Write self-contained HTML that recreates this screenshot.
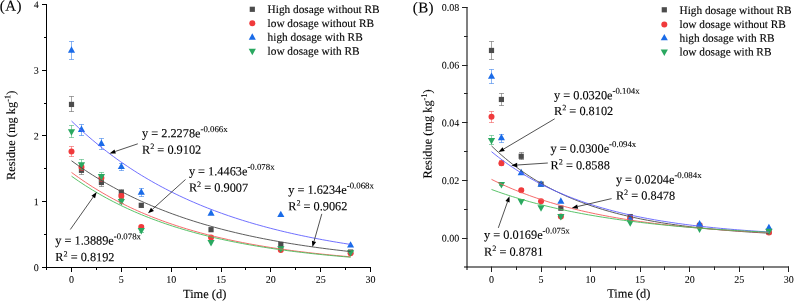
<!DOCTYPE html>
<html><head><meta charset="utf-8"><style>
html,body{margin:0;padding:0;background:#fff;}
body{width:794px;height:301px;overflow:hidden;}
svg{display:block;font-family:"Liberation Serif",serif;}
text{stroke:#000;stroke-width:0.12px;}
text.t{stroke-width:0.06px;}
</style></head><body>
<svg width="794" height="301" viewBox="0 0 794 301">
<defs><filter id="gs" filterUnits="userSpaceOnUse" x="0" y="0" width="794" height="301"><feOffset dx="0" dy="0"/></filter></defs>
<rect width="794" height="301" fill="#fff"/>
<g filter="url(#gs)">
<g stroke="#000" stroke-width="1" fill="none">
<path d="M46.5 4V270"/>
<path d="M46 267.5H371"/>
<path d="M42 267.50H46"/>
<path d="M42 201.50H46"/>
<path d="M42 135.50H46"/>
<path d="M42 70.50H46"/>
<path d="M42 4.50H46"/>
<path d="M44 234.50H46"/>
<path d="M44 168.50H46"/>
<path d="M44 103.50H46"/>
<path d="M44 37.50H46"/>
<path d="M71.50 267V272"/>
<path d="M121.50 267V272"/>
<path d="M171.50 267V272"/>
<path d="M221.50 267V272"/>
<path d="M270.50 267V272"/>
<path d="M320.50 267V272"/>
<path d="M370.50 267V272"/>
<path d="M96.50 267V270"/>
<path d="M146.50 267V270"/>
<path d="M196.50 267V270"/>
<path d="M245.50 267V270"/>
<path d="M295.50 267V270"/>
<path d="M345.50 267V270"/>
</g>
<text x="38.80" y="270.90" font-size="10" text-anchor="end" fill="#000" transform="rotate(0.05 38.80 270.90)" class="t">0</text>
<text x="38.80" y="205.15" font-size="10" text-anchor="end" fill="#000" transform="rotate(0.05 38.80 205.15)" class="t">1</text>
<text x="38.80" y="139.40" font-size="10" text-anchor="end" fill="#000" transform="rotate(0.05 38.80 139.40)" class="t">2</text>
<text x="38.80" y="73.65" font-size="10" text-anchor="end" fill="#000" transform="rotate(0.05 38.80 73.65)" class="t">3</text>
<text x="38.80" y="7.90" font-size="10" text-anchor="end" fill="#000" transform="rotate(0.05 38.80 7.90)" class="t">4</text>
<text x="71.50" y="282.80" font-size="10" text-anchor="middle" fill="#000" transform="rotate(0.05 71.50 282.80)" class="t">0</text>
<text x="121.34" y="282.80" font-size="10" text-anchor="middle" fill="#000" transform="rotate(0.05 121.34 282.80)" class="t">5</text>
<text x="171.17" y="282.80" font-size="10" text-anchor="middle" fill="#000" transform="rotate(0.05 171.17 282.80)" class="t">10</text>
<text x="221.00" y="282.80" font-size="10" text-anchor="middle" fill="#000" transform="rotate(0.05 221.00 282.80)" class="t">15</text>
<text x="270.84" y="282.80" font-size="10" text-anchor="middle" fill="#000" transform="rotate(0.05 270.84 282.80)" class="t">20</text>
<text x="320.68" y="282.80" font-size="10" text-anchor="middle" fill="#000" transform="rotate(0.05 320.68 282.80)" class="t">25</text>
<text x="370.51" y="282.80" font-size="10" text-anchor="middle" fill="#000" transform="rotate(0.05 370.51 282.80)" class="t">30</text>
<text x="183.00" y="298.00" font-size="12.4" text-anchor="start" fill="#000" transform="rotate(0.05 183.00 298.00)" >Time (d)</text>
<text transform="translate(15 180) rotate(-89.95)" font-size="12.35" fill="#000">Residue (mg kg<tspan font-size="8.4" dy="-4.8">-1</tspan><tspan dy="4.8">)</tspan></text>
<text x="-0.20" y="10.80" font-size="15" text-anchor="start" fill="#000" transform="rotate(0.05 -0.20 10.80)" letter-spacing="0.4">(A)</text>
<path d="M71.50 96.50V111.50M69.00 96.50H74.00M69.00 111.50H74.00" stroke="#4c4c4c" stroke-width="1" fill="none" opacity="0.5"/>
<path d="M81.50 166.50V174.50M79.00 166.50H84.00M79.00 174.50H84.00" stroke="#4c4c4c" stroke-width="1" fill="none" opacity="0.5"/>
<path d="M101.50 178.50V186.50M99.00 178.50H104.00M99.00 186.50H104.00" stroke="#4c4c4c" stroke-width="1" fill="none" opacity="0.5"/>
<path d="M121.50 189.50V195.50M119.00 189.50H124.00M119.00 195.50H124.00" stroke="#4c4c4c" stroke-width="1" fill="none" opacity="0.5"/>
<path d="M141.50 203.50V207.50M139.00 203.50H144.00M139.00 207.50H144.00" stroke="#4c4c4c" stroke-width="1" fill="none" opacity="0.5"/>
<rect x="68.90" y="101.84" width="5.20" height="5.20" fill="#4c4c4c"/>
<rect x="78.87" y="167.72" width="5.20" height="5.20" fill="#4c4c4c"/>
<rect x="98.80" y="179.89" width="5.20" height="5.20" fill="#4c4c4c"/>
<rect x="118.74" y="189.95" width="5.20" height="5.20" fill="#4c4c4c"/>
<rect x="138.67" y="202.70" width="5.20" height="5.20" fill="#4c4c4c"/>
<rect x="208.44" y="227.09" width="5.20" height="5.20" fill="#4c4c4c"/>
<rect x="278.21" y="241.89" width="5.20" height="5.20" fill="#4c4c4c"/>
<rect x="347.98" y="249.45" width="5.20" height="5.20" fill="#4c4c4c"/>
<path d="M71.50 146.50V156.50M69.00 146.50H74.00M69.00 156.50H74.00" stroke="#f03a3c" stroke-width="1" fill="none" opacity="0.5"/>
<path d="M81.50 163.50V170.50M79.00 163.50H84.00M79.00 170.50H84.00" stroke="#f03a3c" stroke-width="1" fill="none" opacity="0.5"/>
<path d="M101.50 174.50V181.50M99.00 174.50H104.00M99.00 181.50H104.00" stroke="#f03a3c" stroke-width="1" fill="none" opacity="0.5"/>
<path d="M121.50 193.50V198.50M119.00 193.50H124.00M119.00 198.50H124.00" stroke="#f03a3c" stroke-width="1" fill="none" opacity="0.5"/>
<path d="M141.50 225.50V228.50M139.00 225.50H144.00M139.00 228.50H144.00" stroke="#f03a3c" stroke-width="1" fill="none" opacity="0.5"/>
<circle cx="71.50" cy="151.52" r="3.00" fill="#f03a3c"/>
<circle cx="81.47" cy="166.90" r="3.00" fill="#f03a3c"/>
<circle cx="101.40" cy="178.08" r="3.00" fill="#f03a3c"/>
<circle cx="121.34" cy="196.03" r="3.00" fill="#f03a3c"/>
<circle cx="141.27" cy="227.00" r="3.00" fill="#f03a3c"/>
<circle cx="211.04" cy="237.39" r="3.00" fill="#f03a3c"/>
<circle cx="280.81" cy="250.01" r="3.00" fill="#f03a3c"/>
<circle cx="350.58" cy="253.30" r="3.00" fill="#f03a3c"/>
<path d="M71.50 41.50V59.50M69.00 41.50H74.00M69.00 59.50H74.00" stroke="#1a6be8" stroke-width="1" fill="none" opacity="0.5"/>
<path d="M81.50 124.50V135.50M79.00 124.50H84.00M79.00 135.50H84.00" stroke="#1a6be8" stroke-width="1" fill="none" opacity="0.5"/>
<path d="M101.50 138.50V149.50M99.00 138.50H104.00M99.00 149.50H104.00" stroke="#1a6be8" stroke-width="1" fill="none" opacity="0.5"/>
<path d="M121.50 163.50V170.50M119.00 163.50H124.00M119.00 170.50H124.00" stroke="#1a6be8" stroke-width="1" fill="none" opacity="0.5"/>
<path d="M141.50 188.50V196.50M139.00 188.50H144.00M139.00 196.50H144.00" stroke="#1a6be8" stroke-width="1" fill="none" opacity="0.5"/>
<path d="M71.50 46.26L75.05 52.66L67.95 52.66Z" fill="#1a6be8"/>
<path d="M81.47 125.55L85.02 131.95L77.92 131.95Z" fill="#1a6be8"/>
<path d="M101.40 139.62L104.95 146.02L97.85 146.02Z" fill="#1a6be8"/>
<path d="M121.34 162.64L124.89 169.04L117.79 169.04Z" fill="#1a6be8"/>
<path d="M141.27 188.28L144.82 194.68L137.72 194.68Z" fill="#1a6be8"/>
<path d="M211.04 209.25L214.59 215.65L207.49 215.65Z" fill="#1a6be8"/>
<path d="M280.81 210.63L284.36 217.03L277.26 217.03Z" fill="#1a6be8"/>
<path d="M350.58 241.21L354.13 247.61L347.03 247.61Z" fill="#1a6be8"/>
<path d="M71.50 125.50V137.50M69.00 125.50H74.00M69.00 137.50H74.00" stroke="#2aa860" stroke-width="1" fill="none" opacity="0.5"/>
<path d="M81.50 159.50V169.50M79.00 159.50H84.00M79.00 169.50H84.00" stroke="#2aa860" stroke-width="1" fill="none" opacity="0.5"/>
<path d="M101.50 172.50V180.50M99.00 172.50H104.00M99.00 180.50H104.00" stroke="#2aa860" stroke-width="1" fill="none" opacity="0.5"/>
<path d="M121.50 198.50V203.50M119.00 198.50H124.00M119.00 203.50H124.00" stroke="#2aa860" stroke-width="1" fill="none" opacity="0.5"/>
<path d="M141.50 228.50V232.50M139.00 228.50H144.00M139.00 232.50H144.00" stroke="#2aa860" stroke-width="1" fill="none" opacity="0.5"/>
<path d="M71.50 135.73L75.10 129.23L67.90 129.23Z" fill="#2aa860"/>
<path d="M81.47 168.80L85.07 162.30L77.87 162.30Z" fill="#2aa860"/>
<path d="M101.40 180.44L105.00 173.94L97.80 173.94Z" fill="#2aa860"/>
<path d="M121.34 205.62L124.94 199.12L117.74 199.12Z" fill="#2aa860"/>
<path d="M141.27 234.55L144.87 228.05L137.67 228.05Z" fill="#2aa860"/>
<path d="M211.04 246.52L214.64 240.02L207.44 240.02Z" fill="#2aa860"/>
<path d="M280.81 252.83L284.41 246.33L277.21 246.33Z" fill="#2aa860"/>
<path d="M350.58 256.71L354.18 250.21L346.98 250.21Z" fill="#2aa860"/>
<path d="M71.50 160.76L74.99 163.27L78.48 165.72L81.97 168.12L85.45 170.45L88.94 172.74L92.43 174.97L95.92 177.14L99.41 179.27L102.90 181.34L106.38 183.37L109.87 185.35L113.36 187.28L116.85 189.17L120.34 191.01L123.83 192.81L127.32 194.56L130.80 196.28L134.29 197.95L137.78 199.59L141.27 201.19L144.76 202.75L148.25 204.27L151.73 205.76L155.22 207.21L158.71 208.63L162.20 210.01L165.69 211.36L169.18 212.68L172.67 213.97L176.15 215.23L179.64 216.46L183.13 217.66L186.62 218.83L190.11 219.98L193.60 221.10L197.08 222.19L200.57 223.25L204.06 224.29L207.55 225.31L211.04 226.30L214.53 227.27L218.01 228.22L221.50 229.14L224.99 230.04L228.48 230.92L231.97 231.78L235.46 232.62L238.95 233.44L242.43 234.25L245.92 235.03L249.41 235.79L252.90 236.54L256.39 237.27L259.88 237.98L263.36 238.67L266.85 239.35L270.34 240.01L273.83 240.66L277.32 241.29L280.81 241.91L284.30 242.51L287.78 243.10L291.27 243.67L294.76 244.23L298.25 244.78L301.74 245.31L305.23 245.83L308.71 246.34L312.20 246.84L315.69 247.33L319.18 247.80L322.67 248.26L326.16 248.72L329.65 249.16L333.13 249.59L336.62 250.01L340.11 250.42L343.60 250.82L347.09 251.22L350.58 251.60" stroke="#4a4a4a" stroke-width="0.9" fill="none"/>
<path d="M71.50 172.41L74.99 174.97L78.48 177.46L81.97 179.88L85.45 182.24L88.94 184.54L92.43 186.77L95.92 188.95L99.41 191.06L102.90 193.12L106.38 195.12L109.87 197.07L113.36 198.97L116.85 200.82L120.34 202.61L123.83 204.36L127.32 206.06L130.80 207.71L134.29 209.32L137.78 210.89L141.27 212.42L144.76 213.90L148.25 215.34L151.73 216.75L155.22 218.11L158.71 219.44L162.20 220.74L165.69 222.00L169.18 223.22L172.67 224.42L176.15 225.58L179.64 226.70L183.13 227.80L186.62 228.87L190.11 229.91L193.60 230.92L197.08 231.91L200.57 232.87L204.06 233.80L207.55 234.71L211.04 235.59L214.53 236.45L218.01 237.29L221.50 238.10L224.99 238.89L228.48 239.66L231.97 240.41L235.46 241.14L238.95 241.85L242.43 242.54L245.92 243.21L249.41 243.87L252.90 244.51L256.39 245.12L259.88 245.73L263.36 246.31L266.85 246.88L270.34 247.44L273.83 247.98L277.32 248.51L280.81 249.02L284.30 249.51L287.78 250.00L291.27 250.47L294.76 250.93L298.25 251.38L301.74 251.81L305.23 252.23L308.71 252.64L312.20 253.04L315.69 253.43L319.18 253.81L322.67 254.18L326.16 254.54L329.65 254.89L333.13 255.23L336.62 255.56L340.11 255.88L343.60 256.19L347.09 256.50L350.58 256.79" stroke="#f45a5a" stroke-width="0.9" fill="none"/>
<path d="M71.50 121.02L74.99 124.37L78.48 127.64L81.97 130.83L85.45 133.95L88.94 137.00L92.43 139.98L95.92 142.89L99.41 145.74L102.90 148.52L106.38 151.23L109.87 153.89L113.36 156.48L116.85 159.02L120.34 161.50L123.83 163.92L127.32 166.28L130.80 168.59L134.29 170.85L137.78 173.06L141.27 175.22L144.76 177.32L148.25 179.38L151.73 181.39L155.22 183.36L158.71 185.28L162.20 187.16L165.69 188.99L169.18 190.79L172.67 192.54L176.15 194.25L179.64 195.92L183.13 197.56L186.62 199.15L190.11 200.72L193.60 202.24L197.08 203.73L200.57 205.19L204.06 206.61L207.55 208.00L211.04 209.36L214.53 210.69L218.01 211.98L221.50 213.25L224.99 214.49L228.48 215.70L231.97 216.88L235.46 218.04L238.95 219.17L242.43 220.27L245.92 221.35L249.41 222.40L252.90 223.43L256.39 224.44L259.88 225.42L263.36 226.38L266.85 227.32L270.34 228.24L273.83 229.14L277.32 230.01L280.81 230.87L284.30 231.71L287.78 232.52L291.27 233.32L294.76 234.10L298.25 234.87L301.74 235.61L305.23 236.34L308.71 237.05L312.20 237.75L315.69 238.43L319.18 239.09L322.67 239.74L326.16 240.37L329.65 240.99L333.13 241.60L336.62 242.19L340.11 242.77L343.60 243.33L347.09 243.88L350.58 244.42" stroke="#6060ff" stroke-width="0.9" fill="none"/>
<path d="M71.50 176.18L74.99 178.64L78.48 181.03L81.97 183.36L85.45 185.63L88.94 187.83L92.43 189.98L95.92 192.06L99.41 194.10L102.90 196.07L106.38 198.00L109.87 199.87L113.36 201.69L116.85 203.46L120.34 205.19L123.83 206.87L127.32 208.50L130.80 210.09L134.29 211.63L137.78 213.14L141.27 214.60L144.76 216.03L148.25 217.41L151.73 218.76L155.22 220.07L158.71 221.35L162.20 222.59L165.69 223.80L169.18 224.98L172.67 226.13L176.15 227.24L179.64 228.32L183.13 229.38L186.62 230.41L190.11 231.40L193.60 232.38L197.08 233.32L200.57 234.24L204.06 235.14L207.55 236.01L211.04 236.86L214.53 237.68L218.01 238.49L221.50 239.27L224.99 240.03L228.48 240.77L231.97 241.49L235.46 242.19L238.95 242.87L242.43 243.53L245.92 244.18L249.41 244.81L252.90 245.42L256.39 246.01L259.88 246.59L263.36 247.15L266.85 247.70L270.34 248.24L273.83 248.75L277.32 249.26L280.81 249.75L284.30 250.23L287.78 250.69L291.27 251.15L294.76 251.59L298.25 252.02L301.74 252.43L305.23 252.84L308.71 253.23L312.20 253.62L315.69 253.99L319.18 254.35L322.67 254.71L326.16 255.05L329.65 255.39L333.13 255.71L336.62 256.03L340.11 256.34L343.60 256.64L347.09 256.93L350.58 257.22" stroke="#48bc5a" stroke-width="0.9" fill="none"/>
<rect x="249.70" y="6.70" width="5.20" height="5.20" fill="#4c4c4c"/>
<text x="267.60" y="12.90" font-size="11.3" text-anchor="start" fill="#000" transform="rotate(0.05 267.60 12.90)" >High dosage without RB</text>
<circle cx="252.30" cy="23.30" r="3.00" fill="#f03a3c"/>
<text x="267.60" y="26.90" font-size="11.3" text-anchor="start" fill="#000" transform="rotate(0.05 267.60 26.90)" >low dosage without RB</text>
<path d="M252.30 33.33L255.85 39.73L248.75 39.73Z" fill="#1a6be8"/>
<text x="267.60" y="40.80" font-size="11.3" text-anchor="start" fill="#000" transform="rotate(0.05 267.60 40.80)" >high dosage with RB</text>
<path d="M252.30 55.13L255.90 48.63L248.70 48.63Z" fill="#2aa860"/>
<text x="267.60" y="54.80" font-size="11.3" text-anchor="start" fill="#000" transform="rotate(0.05 267.60 54.80)" >low dosage with RB</text>
<text x="142.0" y="137.3" font-size="12.3" fill="#000" transform="rotate(0.05 142.0 137.3)">y = 2.2278e<tspan font-size="8.8" dy="-5.4">-0.066x</tspan></text>
<text x="142.0" y="153.70" font-size="12.3" fill="#000" transform="rotate(0.05 142.0 153.70)">R<tspan font-size="8.2" dy="-4.7">2</tspan><tspan dy="4.7"> = 0.9102</tspan></text>
<path d="M137.80 143.80L115.18 151.47" stroke="#333" stroke-width="0.85" fill="none"/>
<path d="M109.50 153.40L114.48 149.39L115.89 153.56Z" fill="#000"/>
<text x="188.9" y="175.2" font-size="12.3" fill="#000" transform="rotate(0.05 188.9 175.2)">y = 1.4463e<tspan font-size="8.8" dy="-5.4">-0.078x</tspan></text>
<text x="188.9" y="191.60" font-size="12.3" fill="#000" transform="rotate(0.05 188.9 191.60)">R<tspan font-size="8.2" dy="-4.7">2</tspan><tspan dy="4.7"> = 0.9007</tspan></text>
<path d="M185.50 179.50L152.46 209.28" stroke="#333" stroke-width="0.85" fill="none"/>
<path d="M148.00 213.30L150.98 207.65L153.93 210.92Z" fill="#000"/>
<text x="288.2" y="193.8" font-size="12.3" fill="#000" transform="rotate(0.05 288.2 193.8)">y = 1.6234e<tspan font-size="8.8" dy="-5.4">-0.068x</tspan></text>
<text x="288.2" y="210.20" font-size="12.3" fill="#000" transform="rotate(0.05 288.2 210.20)">R<tspan font-size="8.2" dy="-4.7">2</tspan><tspan dy="4.7"> = 0.9062</tspan></text>
<path d="M321.80 213.90L314.03 241.33" stroke="#333" stroke-width="0.85" fill="none"/>
<path d="M312.40 247.10L311.92 240.73L316.15 241.93Z" fill="#000"/>
<text x="55.3" y="244.5" font-size="12.3" fill="#000" transform="rotate(0.05 55.3 244.5)">y = 1.3889e<tspan font-size="8.8" dy="-5.4">-0.078x</tspan></text>
<text x="55.3" y="261.10" font-size="12.3" fill="#000" transform="rotate(0.05 55.3 261.10)">R<tspan font-size="8.2" dy="-4.7">2</tspan><tspan dy="4.7"> = 0.8192</tspan></text>
<path d="M70.30 229.50L93.24 197.00" stroke="#333" stroke-width="0.85" fill="none"/>
<path d="M96.70 192.10L95.04 198.27L91.44 195.73Z" fill="#000"/>
<g stroke="#000" stroke-width="2" fill="none" stroke-opacity="0.5">
<path d="M467 7V270"/>
<path d="M464 267H789"/>
</g>
<g stroke="#222" stroke-width="1" fill="none">
<path d="M462 238.50H467.5"/>
<path d="M462 180.50H467.5"/>
<path d="M462 122.50H467.5"/>
<path d="M462 65.50H467.5"/>
<path d="M462 7.50H467.5"/>
<path d="M464 209.50H467.5"/>
<path d="M464 151.50H467.5"/>
<path d="M464 93.50H467.5"/>
<path d="M464 36.50H467.5"/>
<path d="M491.50 266.5V272"/>
<path d="M541.50 266.5V272"/>
<path d="M590.50 266.5V272"/>
<path d="M640.50 266.5V272"/>
<path d="M689.50 266.5V272"/>
<path d="M739.50 266.5V272"/>
<path d="M788.50 266.5V272"/>
<path d="M516.50 266.5V270"/>
<path d="M565.50 266.5V270"/>
<path d="M615.50 266.5V270"/>
<path d="M664.50 266.5V270"/>
<path d="M714.50 266.5V270"/>
<path d="M763.50 266.5V270"/>
</g>
<text x="459.20" y="241.60" font-size="10" text-anchor="end" fill="#000" transform="rotate(0.05 459.20 241.60)" class="t">0.00</text>
<text x="459.20" y="183.92" font-size="10" text-anchor="end" fill="#000" transform="rotate(0.05 459.20 183.92)" class="t">0.02</text>
<text x="459.20" y="126.24" font-size="10" text-anchor="end" fill="#000" transform="rotate(0.05 459.20 126.24)" class="t">0.04</text>
<text x="459.20" y="68.56" font-size="10" text-anchor="end" fill="#000" transform="rotate(0.05 459.20 68.56)" class="t">0.06</text>
<text x="459.20" y="10.88" font-size="10" text-anchor="end" fill="#000" transform="rotate(0.05 459.20 10.88)" class="t">0.08</text>
<text x="491.50" y="282.80" font-size="10" text-anchor="middle" fill="#000" transform="rotate(0.05 491.50 282.80)" class="t">0</text>
<text x="541.04" y="282.80" font-size="10" text-anchor="middle" fill="#000" transform="rotate(0.05 541.04 282.80)" class="t">5</text>
<text x="590.58" y="282.80" font-size="10" text-anchor="middle" fill="#000" transform="rotate(0.05 590.58 282.80)" class="t">10</text>
<text x="640.12" y="282.80" font-size="10" text-anchor="middle" fill="#000" transform="rotate(0.05 640.12 282.80)" class="t">15</text>
<text x="689.66" y="282.80" font-size="10" text-anchor="middle" fill="#000" transform="rotate(0.05 689.66 282.80)" class="t">20</text>
<text x="739.20" y="282.80" font-size="10" text-anchor="middle" fill="#000" transform="rotate(0.05 739.20 282.80)" class="t">25</text>
<text x="788.74" y="282.80" font-size="10" text-anchor="middle" fill="#000" transform="rotate(0.05 788.74 282.80)" class="t">30</text>
<text x="607.20" y="297.50" font-size="12.4" text-anchor="start" fill="#000" transform="rotate(0.05 607.20 297.50)" >Time (d)</text>
<text transform="translate(431.5 178.6) rotate(-89.95)" font-size="12.35" fill="#000">Residue (mg kg<tspan font-size="8.4" dy="-4.8">-1</tspan><tspan dy="4.8">)</tspan></text>
<text x="412.80" y="12.50" font-size="15" text-anchor="start" fill="#000" transform="rotate(0.05 412.80 12.50)" letter-spacing="0.4">(B)</text>
<path d="M491.50 41.50V59.50M489.00 41.50H494.00M489.00 59.50H494.00" stroke="#4c4c4c" stroke-width="1" fill="none" opacity="0.5"/>
<path d="M501.50 93.50V105.50M499.00 93.50H504.00M499.00 105.50H504.00" stroke="#4c4c4c" stroke-width="1" fill="none" opacity="0.5"/>
<path d="M521.50 152.50V159.50M519.00 152.50H524.00M519.00 159.50H524.00" stroke="#4c4c4c" stroke-width="1" fill="none" opacity="0.5"/>
<rect x="488.90" y="47.85" width="5.20" height="5.20" fill="#4c4c4c"/>
<rect x="498.81" y="96.88" width="5.20" height="5.20" fill="#4c4c4c"/>
<rect x="518.62" y="153.69" width="5.20" height="5.20" fill="#4c4c4c"/>
<rect x="538.44" y="181.53" width="5.20" height="5.20" fill="#4c4c4c"/>
<rect x="558.26" y="205.61" width="5.20" height="5.20" fill="#4c4c4c"/>
<rect x="627.61" y="213.97" width="5.20" height="5.20" fill="#4c4c4c"/>
<rect x="696.97" y="222.91" width="5.20" height="5.20" fill="#4c4c4c"/>
<rect x="766.32" y="229.26" width="5.20" height="5.20" fill="#4c4c4c"/>
<path d="M491.50 111.50V122.50M489.00 111.50H494.00M489.00 122.50H494.00" stroke="#f03a3c" stroke-width="1" fill="none" opacity="0.5"/>
<path d="M501.50 160.50V165.50M499.00 160.50H504.00M499.00 165.50H504.00" stroke="#f03a3c" stroke-width="1" fill="none" opacity="0.5"/>
<path d="M521.50 188.50V191.50M519.00 188.50H524.00M519.00 191.50H524.00" stroke="#f03a3c" stroke-width="1" fill="none" opacity="0.5"/>
<circle cx="491.50" cy="116.78" r="3.00" fill="#f03a3c"/>
<circle cx="501.41" cy="163.22" r="3.00" fill="#f03a3c"/>
<circle cx="521.22" cy="190.33" r="3.00" fill="#f03a3c"/>
<circle cx="541.04" cy="201.28" r="3.00" fill="#f03a3c"/>
<circle cx="560.86" cy="216.43" r="3.00" fill="#f03a3c"/>
<circle cx="630.21" cy="218.30" r="3.00" fill="#f03a3c"/>
<circle cx="699.57" cy="225.22" r="3.00" fill="#f03a3c"/>
<circle cx="768.92" cy="232.49" r="3.00" fill="#f03a3c"/>
<path d="M491.50 69.50V83.50M489.00 69.50H494.00M489.00 83.50H494.00" stroke="#1a6be8" stroke-width="1" fill="none" opacity="0.5"/>
<path d="M501.50 134.50V142.50M499.00 134.50H504.00M499.00 142.50H504.00" stroke="#1a6be8" stroke-width="1" fill="none" opacity="0.5"/>
<path d="M491.50 72.43L495.05 78.83L487.95 78.83Z" fill="#1a6be8"/>
<path d="M501.41 133.86L504.96 140.26L497.86 140.26Z" fill="#1a6be8"/>
<path d="M521.22 168.75L524.77 175.15L517.67 175.15Z" fill="#1a6be8"/>
<path d="M541.04 180.29L544.59 186.69L537.49 186.69Z" fill="#1a6be8"/>
<path d="M560.86 197.31L564.41 203.71L557.31 203.71Z" fill="#1a6be8"/>
<path d="M630.21 214.90L633.76 221.30L626.66 221.30Z" fill="#1a6be8"/>
<path d="M699.57 220.09L703.12 226.49L696.02 226.49Z" fill="#1a6be8"/>
<path d="M768.92 223.72L772.47 230.12L765.37 230.12Z" fill="#1a6be8"/>
<path d="M491.50 135.50V144.50M489.00 135.50H494.00M489.00 144.50H494.00" stroke="#2aa860" stroke-width="1" fill="none" opacity="0.5"/>
<path d="M501.50 182.50V185.50M499.00 182.50H504.00M499.00 185.50H504.00" stroke="#2aa860" stroke-width="1" fill="none" opacity="0.5"/>
<path d="M491.50 144.48L495.10 137.98L487.90 137.98Z" fill="#2aa860"/>
<path d="M501.41 188.60L505.01 182.10L497.81 182.10Z" fill="#2aa860"/>
<path d="M521.22 205.62L524.82 199.12L517.62 199.12Z" fill="#2aa860"/>
<path d="M541.04 211.67L544.64 205.17L537.44 205.17Z" fill="#2aa860"/>
<path d="M560.86 220.61L564.46 214.11L557.26 214.11Z" fill="#2aa860"/>
<path d="M630.21 226.84L633.81 220.34L626.61 220.34Z" fill="#2aa860"/>
<path d="M699.57 232.93L703.17 226.43L695.97 226.43Z" fill="#2aa860"/>
<path d="M768.92 235.32L772.52 228.82L765.32 228.82Z" fill="#2aa860"/>
<path d="M491.50 145.91L494.97 149.21L498.44 152.39L501.90 155.46L505.37 158.42L508.84 161.27L512.31 164.02L515.77 166.67L519.24 169.23L522.71 171.69L526.18 174.07L529.65 176.36L533.11 178.57L536.58 180.70L540.05 182.76L543.52 184.74L546.98 186.65L550.45 188.49L553.92 190.27L557.39 191.98L560.86 193.64L564.32 195.23L567.79 196.77L571.26 198.25L574.73 199.67L578.19 201.05L581.66 202.38L585.13 203.66L588.60 204.89L592.07 206.09L595.53 207.23L599.00 208.34L602.47 209.41L605.94 210.44L609.41 211.43L612.87 212.39L616.34 213.31L619.81 214.20L623.28 215.06L626.74 215.88L630.21 216.68L633.68 217.45L637.15 218.19L640.62 218.91L644.08 219.60L647.55 220.26L651.02 220.90L654.49 221.52L657.95 222.12L661.42 222.69L664.89 223.25L668.36 223.78L671.83 224.30L675.29 224.79L678.76 225.27L682.23 225.74L685.70 226.18L689.16 226.61L692.63 227.02L696.10 227.42L699.57 227.81L703.04 228.18L706.50 228.54L709.97 228.88L713.44 229.22L716.91 229.54L720.37 229.85L723.84 230.15L727.31 230.43L730.78 230.71L734.25 230.98L737.71 231.24L741.18 231.49L744.65 231.73L748.12 231.96L751.59 232.18L755.05 232.40L758.52 232.60L761.99 232.80L765.46 233.00L768.92 233.18" stroke="#4a4a4a" stroke-width="0.9" fill="none"/>
<path d="M491.50 179.37L494.97 181.07L498.44 182.73L501.90 184.33L505.37 185.89L508.84 187.41L512.31 188.88L515.77 190.31L519.24 191.70L522.71 193.04L526.18 194.35L529.65 195.62L533.11 196.86L536.58 198.05L540.05 199.22L543.52 200.35L546.98 201.44L550.45 202.51L553.92 203.54L557.39 204.55L560.86 205.52L564.32 206.47L567.79 207.39L571.26 208.28L574.73 209.15L578.19 209.99L581.66 210.81L585.13 211.60L588.60 212.37L592.07 213.12L595.53 213.85L599.00 214.55L602.47 215.24L605.94 215.90L609.41 216.55L612.87 217.17L616.34 217.78L619.81 218.38L623.28 218.95L626.74 219.51L630.21 220.05L633.68 220.58L637.15 221.09L640.62 221.58L644.08 222.06L647.55 222.53L651.02 222.98L654.49 223.43L657.95 223.85L661.42 224.27L664.89 224.67L668.36 225.06L671.83 225.45L675.29 225.81L678.76 226.17L682.23 226.52L685.70 226.86L689.16 227.19L692.63 227.51L696.10 227.82L699.57 228.12L703.04 228.41L706.50 228.69L709.97 228.97L713.44 229.24L716.91 229.50L720.37 229.75L723.84 229.99L727.31 230.23L730.78 230.46L734.25 230.69L737.71 230.90L741.18 231.12L744.65 231.32L748.12 231.52L751.59 231.71L755.05 231.90L758.52 232.08L761.99 232.26L765.46 232.43L768.92 232.60" stroke="#f45a5a" stroke-width="0.9" fill="none"/>
<path d="M491.50 151.68L494.97 154.48L498.44 157.19L501.90 159.81L505.37 162.35L508.84 164.80L512.31 167.18L515.77 169.48L519.24 171.70L522.71 173.85L526.18 175.94L529.65 177.95L533.11 179.90L536.58 181.79L540.05 183.61L543.52 185.38L546.98 187.09L550.45 188.74L553.92 190.35L557.39 191.89L560.86 193.39L564.32 194.84L567.79 196.25L571.26 197.60L574.73 198.92L578.19 200.19L581.66 201.42L585.13 202.61L588.60 203.76L592.07 204.88L595.53 205.95L599.00 207.00L602.47 208.01L605.94 208.99L609.41 209.93L612.87 210.85L616.34 211.73L619.81 212.59L623.28 213.42L626.74 214.22L630.21 214.99L633.68 215.75L637.15 216.47L640.62 217.18L644.08 217.86L647.55 218.51L651.02 219.15L654.49 219.77L657.95 220.36L661.42 220.94L664.89 221.50L668.36 222.04L671.83 222.56L675.29 223.07L678.76 223.56L682.23 224.03L685.70 224.49L689.16 224.94L692.63 225.37L696.10 225.78L699.57 226.18L703.04 226.57L706.50 226.95L709.97 227.31L713.44 227.66L716.91 228.01L720.37 228.34L723.84 228.65L727.31 228.96L730.78 229.26L734.25 229.55L737.71 229.83L741.18 230.10L744.65 230.36L748.12 230.62L751.59 230.86L755.05 231.10L758.52 231.33L761.99 231.55L765.46 231.77L768.92 231.98" stroke="#6060ff" stroke-width="0.9" fill="none"/>
<path d="M491.50 189.46L494.97 190.72L498.44 191.95L501.90 193.15L505.37 194.32L508.84 195.46L512.31 196.56L515.77 197.64L519.24 198.69L522.71 199.72L526.18 200.71L529.65 201.68L533.11 202.63L536.58 203.55L540.05 204.45L543.52 205.32L546.98 206.18L550.45 207.01L553.92 207.81L557.39 208.60L560.86 209.37L564.32 210.11L567.79 210.84L571.26 211.55L574.73 212.24L578.19 212.91L581.66 213.57L585.13 214.21L588.60 214.83L592.07 215.43L595.53 216.02L599.00 216.60L602.47 217.16L605.94 217.70L609.41 218.23L612.87 218.75L616.34 219.26L619.81 219.75L623.28 220.22L626.74 220.69L630.21 221.14L633.68 221.59L637.15 222.02L640.62 222.44L644.08 222.84L647.55 223.24L651.02 223.63L654.49 224.01L657.95 224.37L661.42 224.73L664.89 225.08L668.36 225.42L671.83 225.75L675.29 226.08L678.76 226.39L682.23 226.70L685.70 226.99L689.16 227.28L692.63 227.57L696.10 227.84L699.57 228.11L703.04 228.37L706.50 228.63L709.97 228.87L713.44 229.12L716.91 229.35L720.37 229.58L723.84 229.80L727.31 230.02L730.78 230.23L734.25 230.44L737.71 230.64L741.18 230.84L744.65 231.03L748.12 231.21L751.59 231.39L755.05 231.57L758.52 231.74L761.99 231.91L765.46 232.07L768.92 232.23" stroke="#48bc5a" stroke-width="0.9" fill="none"/>
<rect x="661.70" y="7.20" width="5.20" height="5.20" fill="#4c4c4c"/>
<text x="679.50" y="13.90" font-size="11.3" text-anchor="start" fill="#000" transform="rotate(0.05 679.50 13.90)" >High dosage without RB</text>
<circle cx="664.30" cy="24.40" r="3.00" fill="#f03a3c"/>
<text x="679.50" y="27.90" font-size="11.3" text-anchor="start" fill="#000" transform="rotate(0.05 679.50 27.90)" >low dosage without RB</text>
<path d="M664.30 33.93L667.85 40.33L660.75 40.33Z" fill="#1a6be8"/>
<text x="679.50" y="41.80" font-size="11.3" text-anchor="start" fill="#000" transform="rotate(0.05 679.50 41.80)" >high dosage with RB</text>
<path d="M664.30 56.03L667.90 49.53L660.70 49.53Z" fill="#2aa860"/>
<text x="679.50" y="55.40" font-size="11.3" text-anchor="start" fill="#000" transform="rotate(0.05 679.50 55.40)" >low dosage with RB</text>
<text x="554.0" y="99.2" font-size="12.3" fill="#000" transform="rotate(0.05 554.0 99.2)">y = 0.0320e<tspan font-size="8.8" dy="-5.4">-0.104x</tspan></text>
<text x="554.0" y="115.00" font-size="12.3" fill="#000" transform="rotate(0.05 554.0 115.00)">R<tspan font-size="8.2" dy="-4.7">2</tspan><tspan dy="4.7"> = 0.8102</tspan></text>
<path d="M554.70 118.80L503.66 149.04" stroke="#333" stroke-width="0.85" fill="none"/>
<path d="M498.50 152.10L502.54 147.15L504.78 150.93Z" fill="#000"/>
<text x="550.6" y="152.4" font-size="12.3" fill="#000" transform="rotate(0.05 550.6 152.4)">y = 0.0300e<tspan font-size="8.8" dy="-5.4">-0.094x</tspan></text>
<text x="550.6" y="169.30" font-size="12.3" fill="#000" transform="rotate(0.05 550.6 169.30)">R<tspan font-size="8.2" dy="-4.7">2</tspan><tspan dy="4.7"> = 0.8588</tspan></text>
<path d="M547.80 163.00L517.29 165.01" stroke="#333" stroke-width="0.85" fill="none"/>
<path d="M511.30 165.40L517.14 162.81L517.43 167.20Z" fill="#000"/>
<text x="615.9" y="183.4" font-size="12.3" fill="#000" transform="rotate(0.05 615.9 183.4)">y = 0.0204e<tspan font-size="8.8" dy="-5.4">-0.084x</tspan></text>
<text x="615.9" y="199.60" font-size="12.3" fill="#000" transform="rotate(0.05 615.9 199.60)">R<tspan font-size="8.2" dy="-4.7">2</tspan><tspan dy="4.7"> = 0.8478</tspan></text>
<path d="M611.60 198.60L577.64 206.53" stroke="#333" stroke-width="0.85" fill="none"/>
<path d="M571.80 207.90L577.14 204.39L578.14 208.68Z" fill="#000"/>
<text x="484.1" y="238.8" font-size="12.3" fill="#000" transform="rotate(0.05 484.1 238.8)">y = 0.0169e<tspan font-size="8.8" dy="-5.4">-0.075x</tspan></text>
<text x="484.1" y="255.70" font-size="12.3" fill="#000" transform="rotate(0.05 484.1 255.70)">R<tspan font-size="8.2" dy="-4.7">2</tspan><tspan dy="4.7"> = 0.8781</tspan></text>
<path d="M498.30 227.90L507.50 201.86" stroke="#333" stroke-width="0.85" fill="none"/>
<path d="M509.50 196.20L509.58 202.59L505.43 201.12Z" fill="#000"/>
</g>
</svg>
</body></html>
